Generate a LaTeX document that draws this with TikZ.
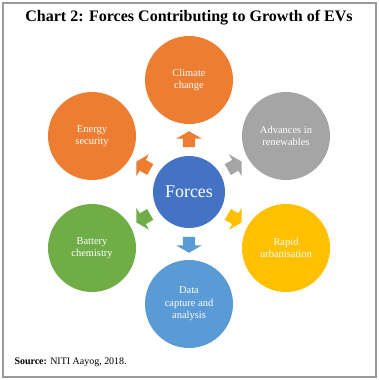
\documentclass[tikz,border=0pt]{standalone}
\usepackage{fontspec}
\setmainfont{Liberation Serif}
\usetikzlibrary{shapes.arrows,calc}
\definecolor{orangeC}{HTML}{ED7D31}
\definecolor{grayC}{HTML}{A5A5A5}
\definecolor{yellowC}{HTML}{FFC000}
\definecolor{skyC}{HTML}{5B9BD5}
\definecolor{greenC}{HTML}{70AD47}
\definecolor{blueC}{HTML}{4472C4}
\definecolor{frameC}{HTML}{9A9A9A}

\begin{document}
\begin{tikzpicture}[x=1bp,y=1bp,
    force/.style={circle,fill=#1,minimum size=88bp,inner sep=0pt,text=white,align=center,font=\fontsize{10.5}{12.5}\selectfont},
    push/.style={single arrow,fill=#1,text height=0pt,text depth=0pt,inner xsep=0pt,inner ysep=6bp,minimum width=0pt,minimum height=16bp,single arrow head extend=6.5bp,single arrow tip angle=120}]
    \useasboundingbox (0,0) rectangle (379,380);
    \draw[line width=1.5bp,frameC] (3,3) rectangle (376,377);
    \node[font=\bfseries\fontsize{16.1}{19}\selectfont] (title) at (189,362) {Chart 2: Forces Contributing to Growth of EVs};
    \node[circle,fill=blueC,minimum size=72bp,inner sep=0pt,text=white,font=\fontsize{18}{20}\selectfont] (forces) at (189,188) {Forces};
    % outer circles
    \node[force=orangeC] (climate) at ($(forces)+(90:112bp)$) {Climate\\change};
    \node[force=grayC] (renew) at ($(forces)+(30:112bp)$) {Advances in\\renewables};
    \node[force=yellowC] (urban) at ($(forces)+(-30:112bp)$) {Rapid\\urbanisation};
    \node[force=skyC] (data) at ($(forces)+(-90:112bp)$) {Data\\capture and\\analysis};
    \node[force=greenC] (battery) at ($(forces)+(210:112bp)$) {Battery\\chemistry};
    \node[force=orangeC] (energy) at ($(forces)+(150:112bp)$) {Energy\\security};
    % arrows
    \node[push=orangeC,rotate=90] (toclimate) at ($(forces)+(90:51bp)$) {};
    \node[push=grayC,rotate=30] (torenew) at ($(forces)+(30:51bp)$) {};
    \node[push=yellowC,rotate=-30] (tourban) at ($(forces)+(-30:51bp)$) {};
    \node[push=skyC,rotate=-90] (todata) at ($(forces)+(-90:51bp)$) {};
    \node[push=greenC,rotate=210] (tobattery) at ($(forces)+(210:51bp)$) {};
    \node[push=orangeC,rotate=150] (toenergy) at ($(forces)+(150:51bp)$) {};
    \node[anchor=west,font=\fontsize{10}{12}\selectfont] (source) at (11,18) {\textbf{Source:} NITI Aayog, 2018.};
\end{tikzpicture}
\end{document}
